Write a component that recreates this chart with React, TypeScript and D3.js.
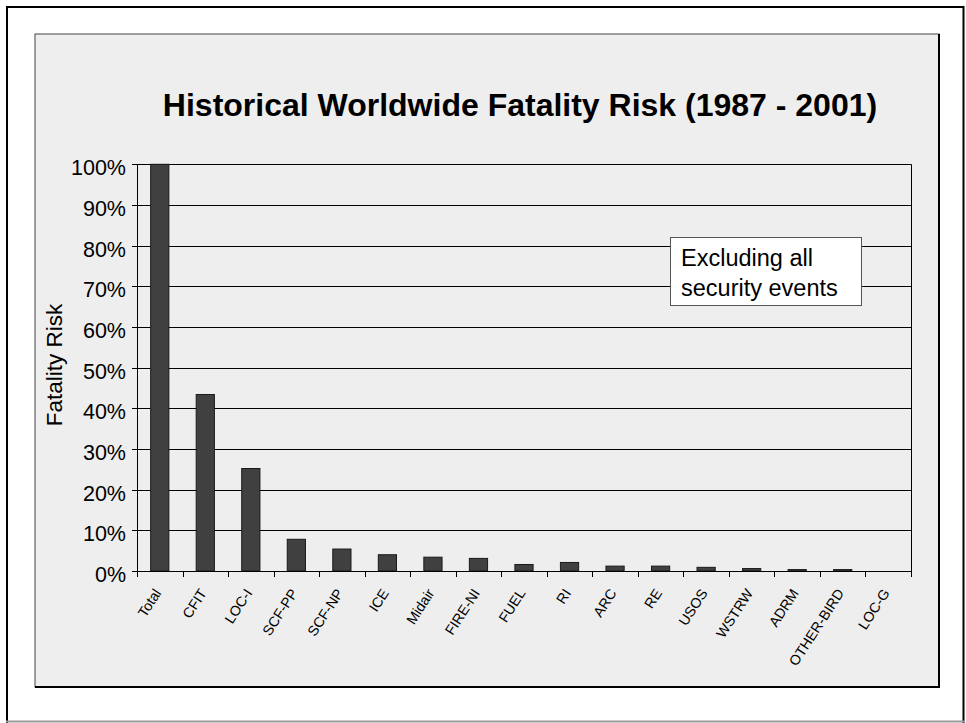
import React from "react";
import * as d3 from "d3";

const categories: string[] = [
  "Total", "CFIT", "LOC-I", "SCF-PP", "SCF-NP", "ICE", "Midair", "FIRE-NI",
  "FUEL", "RI", "ARC", "RE", "USOS", "WSTRW", "ADRM", "OTHER-BIRD", "LOC-G",
];
const fatalityRisk: number[] = [
  1.0, 0.434, 0.252, 0.078, 0.054, 0.040, 0.034, 0.031,
  0.016, 0.021, 0.012, 0.012, 0.009, 0.006, 0.0035, 0.0035, 0.0,
];
const yTicks: number[] = [0, 0.1, 0.2, 0.3, 0.4, 0.5, 0.6, 0.7, 0.8, 0.9, 1.0];
const titleText = "Historical Worldwide Fatality Risk (1987 - 2001)";
const yAxisTitle = "Fatality Risk";
const noteLines: string[] = ["Excluding all", "security events"];

const W = 966;
const H = 723;
const FONT = "'Liberation Sans', Arial, Helvetica, sans-serif";
const plot = { left: 137, right: 911, top: 164.3, bottom: 571 };

export default function App() {
  const x = d3.scaleBand<string>().domain(categories).range([plot.left, plot.right]).padding(0);
  const y = d3.scaleLinear().domain([0, 1]).range([plot.bottom, plot.top]);
  const bw = x.bandwidth();
  const barW = bw * 0.4;
  const fmt = d3.format(".0%");

  const boundaries = categories.map((c) => x(c) as number).concat([plot.right]);

  return (
    <svg
      width={W}
      height={H}
      style={{ position: "absolute", left: 0, top: 0, display: "block" }}
      fontFamily={FONT}
    >
      <rect x={0} y={0} width={W} height={H} fill="#ffffff" />
      {/* outer frame */}
      <line x1={7} y1={6} x2={7} y2={H} stroke="#000" strokeWidth={2} />
      <line x1={6} y1={7} x2={964} y2={7} stroke="#000" strokeWidth={2} />
      <line x1={963.5} y1={6} x2={963.5} y2={H} stroke="#000" strokeWidth={2} />
      <line x1={6} y1={721.5} x2={965} y2={721.5} stroke="#999" strokeWidth={2} />

      {/* inner panel */}
      <rect x={35} y={34} width={904} height={653} fill="#eeeeee" stroke="#444" strokeWidth={1} />
      <line x1={35} y1={687} x2={939.5} y2={687} stroke="#000" strokeWidth={2} />
      <line x1={939} y1={34} x2={939} y2={688} stroke="#000" strokeWidth={2} />

      {/* title */}
      <text x={520} y={116} textAnchor="middle" fontSize={32} fontWeight="bold" fill="#000">
        {titleText}
      </text>

      {/* gridlines */}
      {yTicks.map((t) => (
        <line
          key={"g" + t}
          x1={plot.left}
          x2={plot.right}
          y1={Math.round(y(t)) + 0.5}
          y2={Math.round(y(t)) + 0.5}
          stroke="#000"
          strokeWidth={1}
        />
      ))}
      <line x1={plot.right + 0.5} x2={plot.right + 0.5} y1={plot.top} y2={plot.bottom} stroke="#000" strokeWidth={1} />

      {/* bars */}
      {categories.map((c, i) => {
        const v = fatalityRisk[i];
        if (v <= 0) return null;
        const cx = (x(c) as number) + bw / 2;
        return (
          <rect
            key={"b" + c}
            x={cx - barW / 2}
            y={y(v)}
            width={barW}
            height={plot.bottom - y(v)}
            fill="#404040"
            stroke="#1a1a1a"
            strokeWidth={1}
          />
        );
      })}

      {/* y axis */}
      <line x1={plot.left + 0.5} x2={plot.left + 0.5} y1={plot.top} y2={plot.bottom + 5} stroke="#000" strokeWidth={1} />
      {yTicks.map((t) => (
        <g key={"yt" + t}>
          <line
            x1={plot.left - 5}
            x2={plot.left}
            y1={Math.round(y(t)) + 0.5}
            y2={Math.round(y(t)) + 0.5}
            stroke="#000"
            strokeWidth={1}
          />
          <text x={126} y={y(t) + 11} textAnchor="end" fontSize={21.5} fill="#000">
            {fmt(t)}
          </text>
        </g>
      ))}
      <text
        transform={`translate(61.5,365) rotate(-90)`}
        textAnchor="middle"
        fontSize={22.5}
        fill="#000"
      >
        {yAxisTitle}
      </text>

      {/* x axis */}
      <line x1={plot.left} x2={plot.right + 1} y1={plot.bottom + 0.5} y2={plot.bottom + 0.5} stroke="#000" strokeWidth={1} />
      {boundaries.map((bx, i) => (
        <line
          key={"xt" + i}
          x1={Math.round(bx) + 0.5}
          x2={Math.round(bx) + 0.5}
          y1={plot.bottom}
          y2={plot.bottom + 6}
          stroke="#000"
          strokeWidth={1}
        />
      ))}
      {categories.map((c) => {
        const cx = (x(c) as number) + bw / 2;
        return (
          <text
            key={"xl" + c}
            transform={`translate(${cx + 2},${plot.bottom + 22}) rotate(-57)`}
            textAnchor="end"
            fontSize={14.2}
            fill="#000"
          >
            {c}
          </text>
        );
      })}

      {/* annotation */}
      <rect x={670.5} y={237.5} width={191} height={68} fill="#ffffff" stroke="#555" strokeWidth={1} />
      {noteLines.map((l, i) => (
        <text key={"n" + i} x={681} y={266 + i * 30} fontSize={23.5} fill="#000">
          {l}
        </text>
      ))}
    </svg>
  );
}
